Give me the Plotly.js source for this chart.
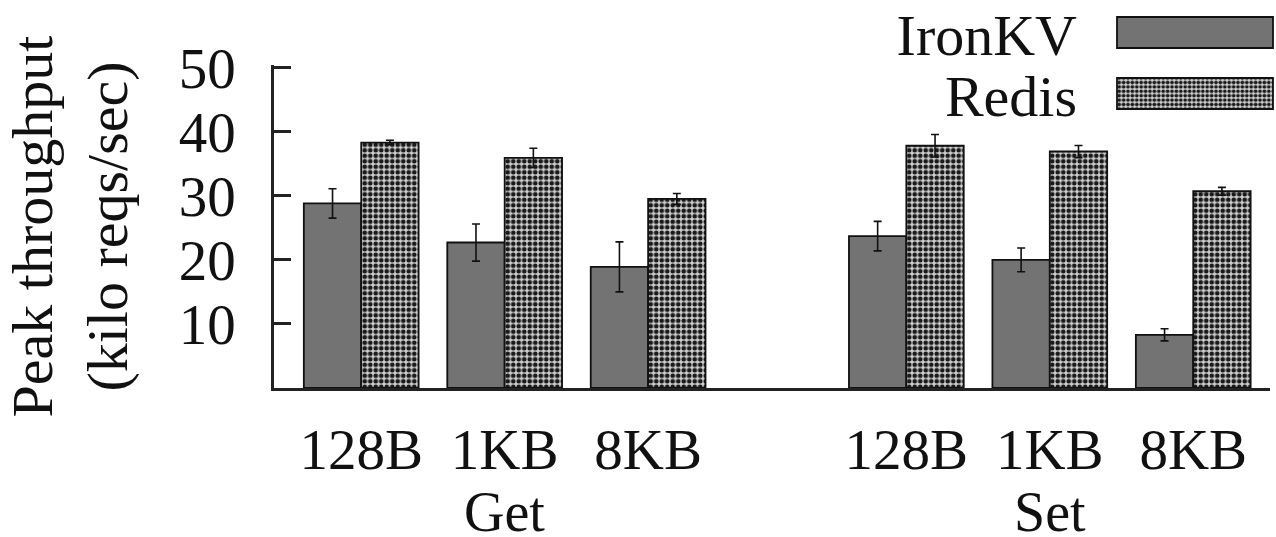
<!DOCTYPE html>
<html>
<head>
<meta charset="utf-8">
<script src="https://cdn.plot.ly/plotly-3.0.1.min.js"></script>
<style>
html,body{margin:0;padding:0;background:#fff;}
#chart{width:1276px;height:537px;}
</style>
</head>
<body>
<div id="chart"></div>
<script>
// ---- data ----
const operations = ['Get', 'Set'];
const sizes = ['128B', '1KB', '8KB'];
const seriesNames = ['IronKV', 'Redis'];
// values per operation, per size (kilo reqs/sec)
const ironkvValues = [28.8, 22.7, 18.9, 23.7, 20.0, 8.3];
const ironkvErrors = [2.3, 2.9, 3.9, 2.3, 1.85, 0.95];
const redisValues  = [38.3, 35.9, 29.5, 37.8, 36.9, 30.7];
const redisErrors  = [0.35, 1.5, 0.85, 1.75, 0.95, 0.6];
const yTickVals = [10, 20, 30, 40, 50];

// ---- layout helpers (positions, not data) ----
const GROUP_GAP = 0.8;
const xPos = [];
const xLabels = [];
operations.forEach((op, g) => {
  sizes.forEach((s, i) => {
    xPos.push(g * (sizes.length + GROUP_GAP) + i);
    xLabels.push(s);
  });
});
const groupCenters = operations.map((op, g) => g * (sizes.length + GROUP_GAP) + (sizes.length - 1) / 2);

const FONT = 'Liberation Serif, Times New Roman, serif';
const INK = '#111';

const traces = [
  {
    type: 'bar', name: seriesNames[0], x: xPos, y: ironkvValues,
    marker: {color: '#737373', line: {color: INK, width: 1.8}},
    error_y: {type: 'data', array: ironkvErrors, visible: true, color: INK, thickness: 1.6, width: 4}
  },
  {
    type: 'bar', name: seriesNames[1], x: xPos, y: redisValues,
    marker: {
      color: '#d0d0d0',
      line: {color: INK, width: 1.8},
      pattern: {shape: '.', fgcolor: '#1a1a1a', bgcolor: '#cfcfcf', size: 5.5, solidity: 0.55, fillmode: 'replace'}
    },
    error_y: {type: 'data', array: redisErrors, visible: true, color: INK, thickness: 1.6, width: 4}
  }
];

const layout = {
  width: 1276, height: 537,
  paper_bgcolor: '#fff', plot_bgcolor: '#fff',
  margin: {l: 274, r: 6, t: 65, b: 149, autoexpand: false},
  font: {family: FONT, color: INK, size: 57},
  barmode: 'group', bargap: 0.2, bargroupgap: 0,
  showlegend: true,
  legend: {
    x: 0.8, y: 1.1, xanchor: 'left', yanchor: 'bottom',
    bgcolor: 'rgba(0,0,0,0)', borderwidth: 0,
    font: {family: FONT, size: 58, color: INK},
    traceorder: 'normal'
  },
  xaxis: {
    range: [-0.608, 6.335],
    tickmode: 'array', tickvals: xPos, ticktext: xLabels,
    ticks: '', showgrid: false, zeroline: false,
    showline: true, linecolor: '#222', linewidth: 2.5,
    tickfont: {family: FONT, size: 57, color: INK},
    ticklabelstandoff: 10,
    fixedrange: true
  },
  yaxis: {
    range: [0, 50.4],
    tickmode: 'array', tickvals: yTickVals,
    ticks: 'inside', ticklen: 17, tickwidth: 2.5, tickcolor: '#222',
    showgrid: false, zeroline: false,
    showline: true, linecolor: '#222', linewidth: 2.5,
    tickfont: {family: FONT, size: 57, color: INK},
    ticklabelstandoff: 24,
    title: {text: 'Peak throughput<br>(kilo reqs/sec)', font: {family: FONT, size: 58, color: INK}, standoff: 36},
    fixedrange: true
  },
  annotations: operations.map((op, g) => ({
    text: op, x: groupCenters[g], xref: 'x', y: 0, yref: 'paper',
    yanchor: 'middle', xanchor: 'center', yshift: -124, showarrow: false,
    font: {family: FONT, size: 56, color: INK}
  }))
};

Plotly.newPlot('chart', traces, layout, {displayModeBar: false}).then(gd => {
  // place legend text to the left of long swatches (as in the reference)
  const leg = gd.querySelector('.legend');
  if (!leg) return;
  const bg = leg.querySelector('rect.bg');
  if (bg) bg.style.display = 'none';
  leg.querySelectorAll('[clip-path]').forEach(el => el.removeAttribute('clip-path'));
  const items = leg.querySelectorAll('.traces');
  const SW_W = 156, SW_H = 31, DY = 61;
  items.forEach((t, i) => {
    t.setAttribute('transform', `translate(0,${i * DY})`);
    const txt = t.querySelector('text.legendtext');
    if (txt) {
      txt.setAttribute('x', -20);
      txt.setAttribute('text-anchor', 'end');
      txt.style.textAnchor = 'end';
    }
    t.querySelectorAll('.legendpoints path').forEach(p => {
      p.setAttribute('d', `M0,${-SW_H / 2}H${SW_W}V${SW_H / 2}H0Z`);
    });
    const toggle = t.querySelector('rect.legendtoggle');
    if (toggle) toggle.style.display = 'none';
  });
  const firstPath = items[0] && items[0].querySelector('.legendpoints path');
  if (firstPath) {
    const r = firstPath.getBoundingClientRect();
    const dx = 1117 - r.left, dy = 17 - r.top;
    const cur = leg.getAttribute('transform') || '';
    leg.setAttribute('transform', cur + ` translate(${dx},${dy})`);
  }
});
</script>
</body>
</html>
